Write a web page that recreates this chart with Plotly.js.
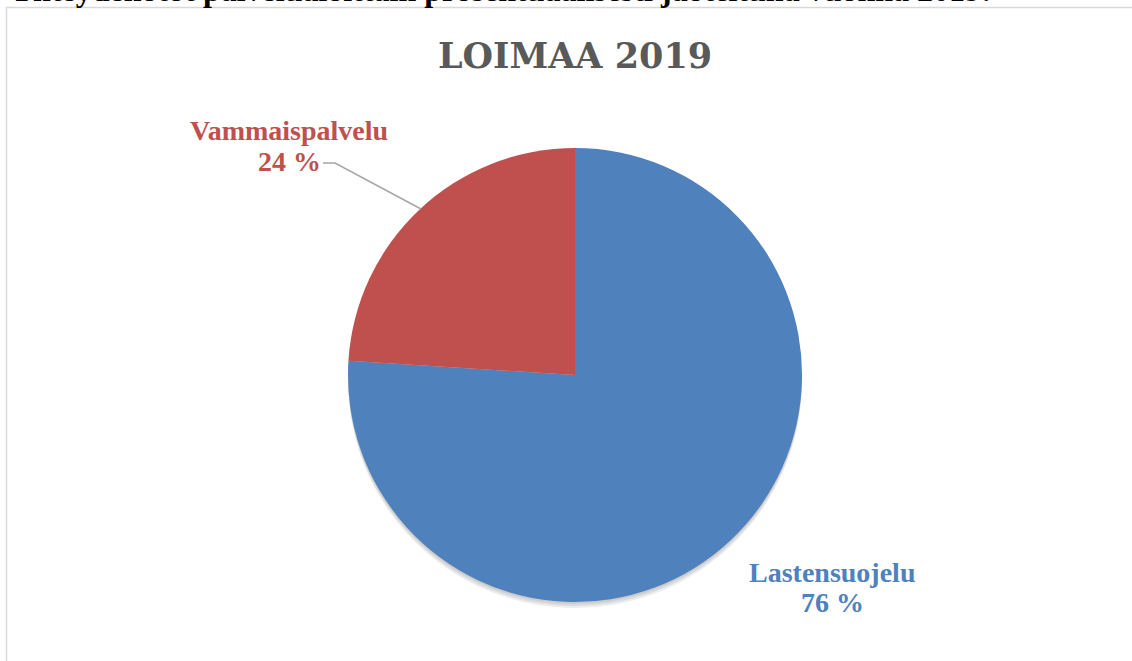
<!DOCTYPE html>
<html>
<head>
<meta charset="utf-8">
<script src="https://cdn.plot.ly/plotly-3.0.1.min.js"></script>
<style>html,body{margin:0;padding:0;background:#fff;}#chart{width:1132px;height:661px;}</style>
</head>
<body>
<div id="chart"></div>
<script>
const chartTitle = "LOIMAA 2019";
const pageHeading = "Yhteydenotot palvelualoittain prosentuaalisesti jaoteltuna vuonna 2019:";
const categories = ["Lastensuojelu", "Vammaispalvelu"];
const shares = [76, 24];
const colors = ["#4f81bd", "#c0504d"];

const W = 1132, H = 661;
const cx = 575, cy = 375, r = 227;
const px = x => x / W;
const py = y => 1 - y / H;

// soft shadow layers under the pie
const shadowTraces = [6, 4, 2].map(off => ({
  type: "pie",
  values: shares,
  labels: categories,
  sort: false,
  direction: "clockwise",
  marker: {colors: ["rgba(0,0,0,0.07)", "rgba(0,0,0,0.07)"], line: {width: 0}},
  textinfo: "none",
  hoverinfo: "skip",
  showlegend: false,
  domain: {x: [px(cx - r), px(cx + r)], y: [py(cy + r + off), py(cy - r + off)]}
}));

const trace = {
  type: "pie",
  values: shares,
  labels: categories,
  sort: false,
  direction: "clockwise",
  rotation: 0,
  marker: {colors: colors, line: {width: 0}},
  textinfo: "none",
  hoverinfo: "label+percent",
  showlegend: false,
  domain: {x: [px(cx - r), px(cx + r)], y: [py(cy + r), py(cy - r)]}
};

const labelPos = [
  {x: 832, yName: 572, yPct: 602},
  {x: 289, yName: 130, yPct: 162}
];

const annotations = [];
categories.forEach((c, i) => {
  annotations.push({
    xref: "paper", yref: "paper",
    x: px(labelPos[i].x), y: py(labelPos[i].yName),
    xanchor: "center", yanchor: "middle",
    text: "<b>" + c + "</b>",
    showarrow: false,
    font: {family: "Liberation Serif, serif", size: 28, color: colors[i]}
  });
  annotations.push({
    xref: "paper", yref: "paper",
    x: px(labelPos[i].x), y: py(labelPos[i].yPct),
    xanchor: "center", yanchor: "middle",
    text: "<b>" + shares[i] + " %</b>",
    showarrow: false,
    font: {family: "Liberation Serif, serif", size: 28, color: colors[i]}
  });
});

annotations.push({
  xref: "paper", yref: "paper",
  x: px(cx), y: py(56),
  xanchor: "center", yanchor: "middle",
  text: "<b>" + chartTitle + "</b>",
  showarrow: false,
  font: {family: "DejaVu Serif, serif", size: 35, color: "#595959"}
});

annotations.push({
  xref: "paper", yref: "paper",
  x: px(8), y: py(10),
  xanchor: "left", yanchor: "bottom",
  text: "<b>" + pageHeading + "</b>",
  showarrow: false,
  font: {family: "Liberation Serif, serif", size: 32, color: "#000000"}
});

const shapes = [
  {type: "rect", xref: "paper", yref: "paper",
   x0: px(6.5), x1: px(1145), y0: py(700), y1: py(7.5),
   line: {color: "#d9d9d9", width: 1.5}, fillcolor: "rgba(0,0,0,0)"},
  {type: "path", xref: "paper", yref: "paper",
   path: "M " + px(323) + "," + py(163) + " L " + px(335) + "," + py(163) + " L " + px(421) + "," + py(209),
   line: {color: "#a6a6a6", width: 1.5}}
];

const layout = {
  width: W, height: H,
  margin: {l: 0, r: 0, t: 0, b: 0},
  paper_bgcolor: "#ffffff",
  plot_bgcolor: "#ffffff",
  showlegend: false,
  annotations: annotations,
  shapes: shapes
};

Plotly.newPlot("chart", shadowTraces.concat([trace]), layout, {displayModeBar: false, staticPlot: true});
</script>
</body>
</html>
